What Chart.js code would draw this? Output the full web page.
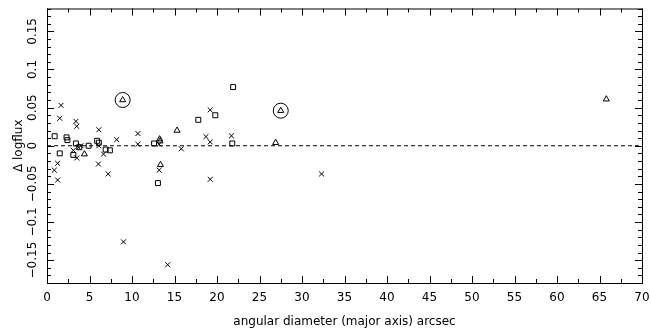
<!DOCTYPE html>
<html lang="en">
<head>
    <meta charset="UTF-8">
    <title>Delta logflux vs angular diameter</title>
    <script src="https://cdn.jsdelivr.net/npm/chart.js"></script>
    <style>
        html, body { margin: 0; padding: 0; background: #fff; }
        #wrap { width: 651px; height: 331px; }
    </style>
</head>
<body>
    <div id="wrap"><canvas id="fluxChart"></canvas></div>

    <script>
        // crosses, squares and triangles: [angular diameter, delta logflux]
        const crossPts = [
            [1.65, 0.053], [1.5, 0.036], [3.4, 0.032], [3.5, 0.0255], [6.1, 0.021],
            [10.7, 0.016], [8.2, 0.008], [10.7, 0.002], [13.2, 0.002], [6.65, -0.011],
            [3.1, -0.006], [3.5, -0.016], [3.7, -0.002], [4.0, 0.0], [1.25, -0.023],
            [0.86, -0.032], [1.25, -0.045], [6.05, -0.024], [7.2, -0.037], [13.2, -0.032],
            [15.8, -0.004], [19.2, 0.047], [18.7, 0.012], [19.2, 0.005], [21.7, 0.013],
            [19.2, -0.044], [32.3, -0.037], [9.0, -0.126], [14.2, -0.156], [6.1, 0.0]
        ];
        const squarePts = [
            [0.9, 0.0125], [2.3, 0.011], [2.4, 0.0074], [3.4, 0.003], [4.9, 0.0],
            [5.9, 0.0065], [6.1, 0.004], [6.9, -0.005], [7.4, -0.006], [1.5, -0.010],
            [3.1, -0.012], [3.8, -0.002], [12.6, 0.003], [13.05, -0.049], [17.8, 0.034],
            [19.8, 0.040], [21.9, 0.077], [21.8, 0.003]
        ];
        const trianglePts = [
            [4.4, -0.011], [8.9, 0.060], [13.25, 0.0087], [13.3, 0.006], [13.35, -0.025],
            [15.3, 0.020], [26.9, 0.004], [27.5, 0.046], [65.8, 0.061]
        ];
        const circledPts = [[8.9, 0.060], [27.5, 0.046]];
        const zeroLine = [[0, 0], [70, 0]];

        const xTickValues = [0, 5, 10, 15, 20, 25, 30, 35, 40, 45, 50, 55, 60, 65, 70];
        const xTickLabels = ['0', '5', '10', '15', '20', '25', '30', '35', '40', '45', '50', '55', '60', '65', '70'];
        const yTickValues = [-0.15, -0.1, -0.05, 0, 0.05, 0.1, 0.15];
        const yTickLabels = ['\u22120.15', '\u22120.1', '\u22120.05', '0', '0.05', '0.1', '0.15'];

        const xTitle = 'angular diameter (major axis) arcsec';
        const yTitle = '\u0394 logflux';

        const toXY = arr => arr.map(p => ({ x: p[0], y: p[1] }));
        const fontFamily = '"DejaVu Sans", sans-serif';

        function labelFor(values, labels, v) {
            for (let i = 0; i < values.length; i++) {
                if (Math.abs(values[i] - v) < 1e-6) return labels[i];
            }
            return '';
        }

        // frame plus inward tick marks on all four sides
        const frameTicks = {
            id: 'frameTicks',
            afterDraw(chart) {
                const { ctx, chartArea: a, scales } = chart;
                ctx.save();
                ctx.strokeStyle = '#000';
                ctx.lineWidth = 1;
                ctx.strokeRect(a.left + 0.5, a.top + 0.5, a.right - a.left, a.bottom - a.top);
                ctx.beginPath();
                scales.x.ticks.forEach(t => {
                    const px = Math.round(scales.x.getPixelForValue(t.value)) + 0.5;
                    const len = labelFor(xTickValues, xTickLabels, t.value) ? 7 : 4;
                    ctx.moveTo(px, a.bottom); ctx.lineTo(px, a.bottom - len);
                    ctx.moveTo(px, a.top); ctx.lineTo(px, a.top + len);
                });
                scales.y.ticks.forEach(t => {
                    const py = Math.round(scales.y.getPixelForValue(t.value)) + 0.5;
                    const len = labelFor(yTickValues, yTickLabels, t.value) ? 7 : 4;
                    ctx.moveTo(a.left, py); ctx.lineTo(a.left + len, py);
                    ctx.moveTo(a.right, py); ctx.lineTo(a.right - len, py);
                });
                ctx.stroke();
                ctx.restore();
            }
        };

        const chart = new Chart(document.getElementById('fluxChart'), {
            type: 'scatter',
            data: {
                datasets: [
                    {
                        type: 'line',
                        data: toXY(zeroLine),
                        borderColor: '#000',
                        borderWidth: 1,
                        borderDash: [4, 3],
                        pointRadius: 0,
                        fill: false
                    },
                    {
                        data: toXY(crossPts),
                        pointStyle: 'crossRot',
                        pointRadius: 3.5,
                        borderColor: '#000',
                        borderWidth: 1,
                        backgroundColor: 'transparent'
                    },
                    {
                        data: toXY(squarePts),
                        pointStyle: 'rect',
                        pointRadius: 3.5,
                        borderColor: '#000',
                        borderWidth: 1,
                        backgroundColor: 'transparent'
                    },
                    {
                        data: toXY(trianglePts),
                        pointStyle: 'triangle',
                        pointRadius: 3.5,
                        borderColor: '#000',
                        borderWidth: 1,
                        backgroundColor: 'transparent'
                    },
                    {
                        data: toXY(circledPts),
                        pointStyle: 'circle',
                        pointRadius: 7.5,
                        borderColor: '#000',
                        borderWidth: 1,
                        backgroundColor: 'transparent'
                    }
                ]
            },
            options: {
                responsive: true,
                maintainAspectRatio: false,
                animation: false,
                layout: { padding: { top: 5, right: 9, left: 0, bottom: 0 } },
                plugins: {
                    legend: { display: false },
                    tooltip: { enabled: false }
                },
                scales: {
                    x: {
                        type: 'linear',
                        min: 0,
                        max: 70,
                        border: { display: false },
                        grid: { display: false, drawTicks: false },
                        ticks: {
                            stepSize: 2.5,
                            autoSkip: false,
                            maxRotation: 0,
                            padding: 8,
                            color: '#000',
                            font: { family: fontFamily, size: 12 },
                            callback: v => labelFor(xTickValues, xTickLabels, v)
                        },
                        title: {
                            display: true,
                            text: xTitle,
                            color: '#000',
                            font: { family: fontFamily, size: 12 },
                            padding: { top: 0, bottom: 2 }
                        },
                        afterFit: s => {
                            s.height = 48;
                            s.paddingLeft = 0;
                            s.paddingRight = 0;
                        }
                    },
                    y: {
                        type: 'linear',
                        min: -0.18,
                        max: 0.18,
                        border: { display: false },
                        grid: { display: false, drawTicks: false },
                        ticks: {
                            stepSize: 0.01,
                            autoSkip: false,
                            minRotation: 90,
                            maxRotation: 90,
                            crossAlign: 'center',
                            padding: -4,
                            color: '#000',
                            font: { family: fontFamily, size: 12 },
                            callback: v => labelFor(yTickValues, yTickLabels, v)
                        },
                        title: {
                            display: true,
                            text: yTitle,
                            color: '#000',
                            font: { family: fontFamily, size: 12 },
                            padding: { top: 12, bottom: 0 }
                        },
                        afterFit: s => {
                            s.width = 47;
                            s.paddingTop = 0;
                            s.paddingBottom = 0;
                        }
                    }
                }
            },
            plugins: [frameTicks]
        });
    </script>
</body>
</html>
